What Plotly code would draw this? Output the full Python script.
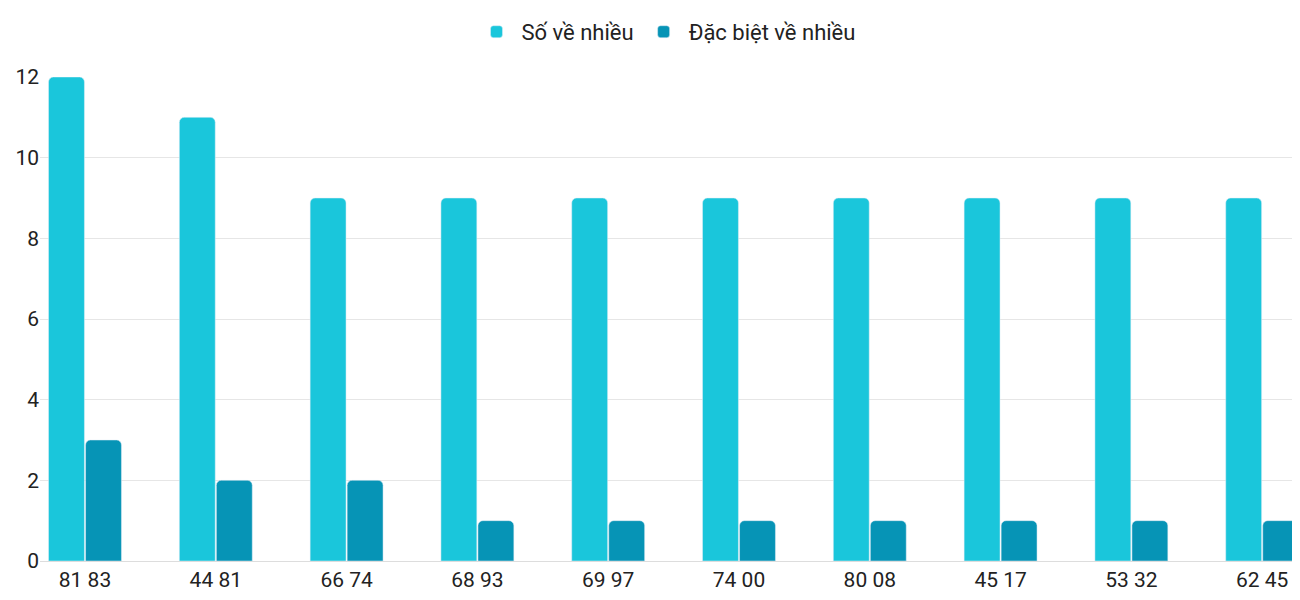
import plotly.graph_objects as go

categories = ["81 83", "44 81", "66 74", "68 93", "69 97", "74 00", "80 08", "45 17", "53 32", "62 45"]
so_ve_nhieu = [12, 11, 9, 9, 9, 9, 9, 9, 9, 9]
dac_biet = [3, 2, 2, 1, 1, 1, 1, 1, 1, 1]

idx = list(range(len(categories)))
fig = go.Figure()
fig.add_bar(x=idx, y=so_ve_nhieu, name="Số về nhiều", marker_color="#1ac6db")
fig.add_bar(x=idx, y=dac_biet, name="Đặc biệt về nhiều", marker_color="#0694b6")
fig.update_layout(
    width=1284, height=584, barmode="group", bargap=0.434, bargroupgap=0.03,
    barcornerradius=5, plot_bgcolor="white", paper_bgcolor="white",
    font=dict(family="Roboto", size=20, color="#222"),
    margin=dict(l=32, r=0, t=69, b=26),
    legend=dict(orientation="h", x=0.5, xanchor="center", y=0.995, yanchor="top",
                yref="container", font=dict(size=22), itemwidth=40),
    showlegend=True,
)
fig.update_xaxes(tickmode="array", tickvals=idx, ticktext=categories,
                 range=[-0.344, 9.228], showgrid=False, showline=True,
                 linecolor="#ddd", ticks="", tickfont=dict(size=21))
fig.update_yaxes(range=[0, 12], dtick=2, gridcolor="#e6e6e6", zeroline=False,
                 ticks="", tickfont=dict(size=21))
fig.write_html("out.html")
